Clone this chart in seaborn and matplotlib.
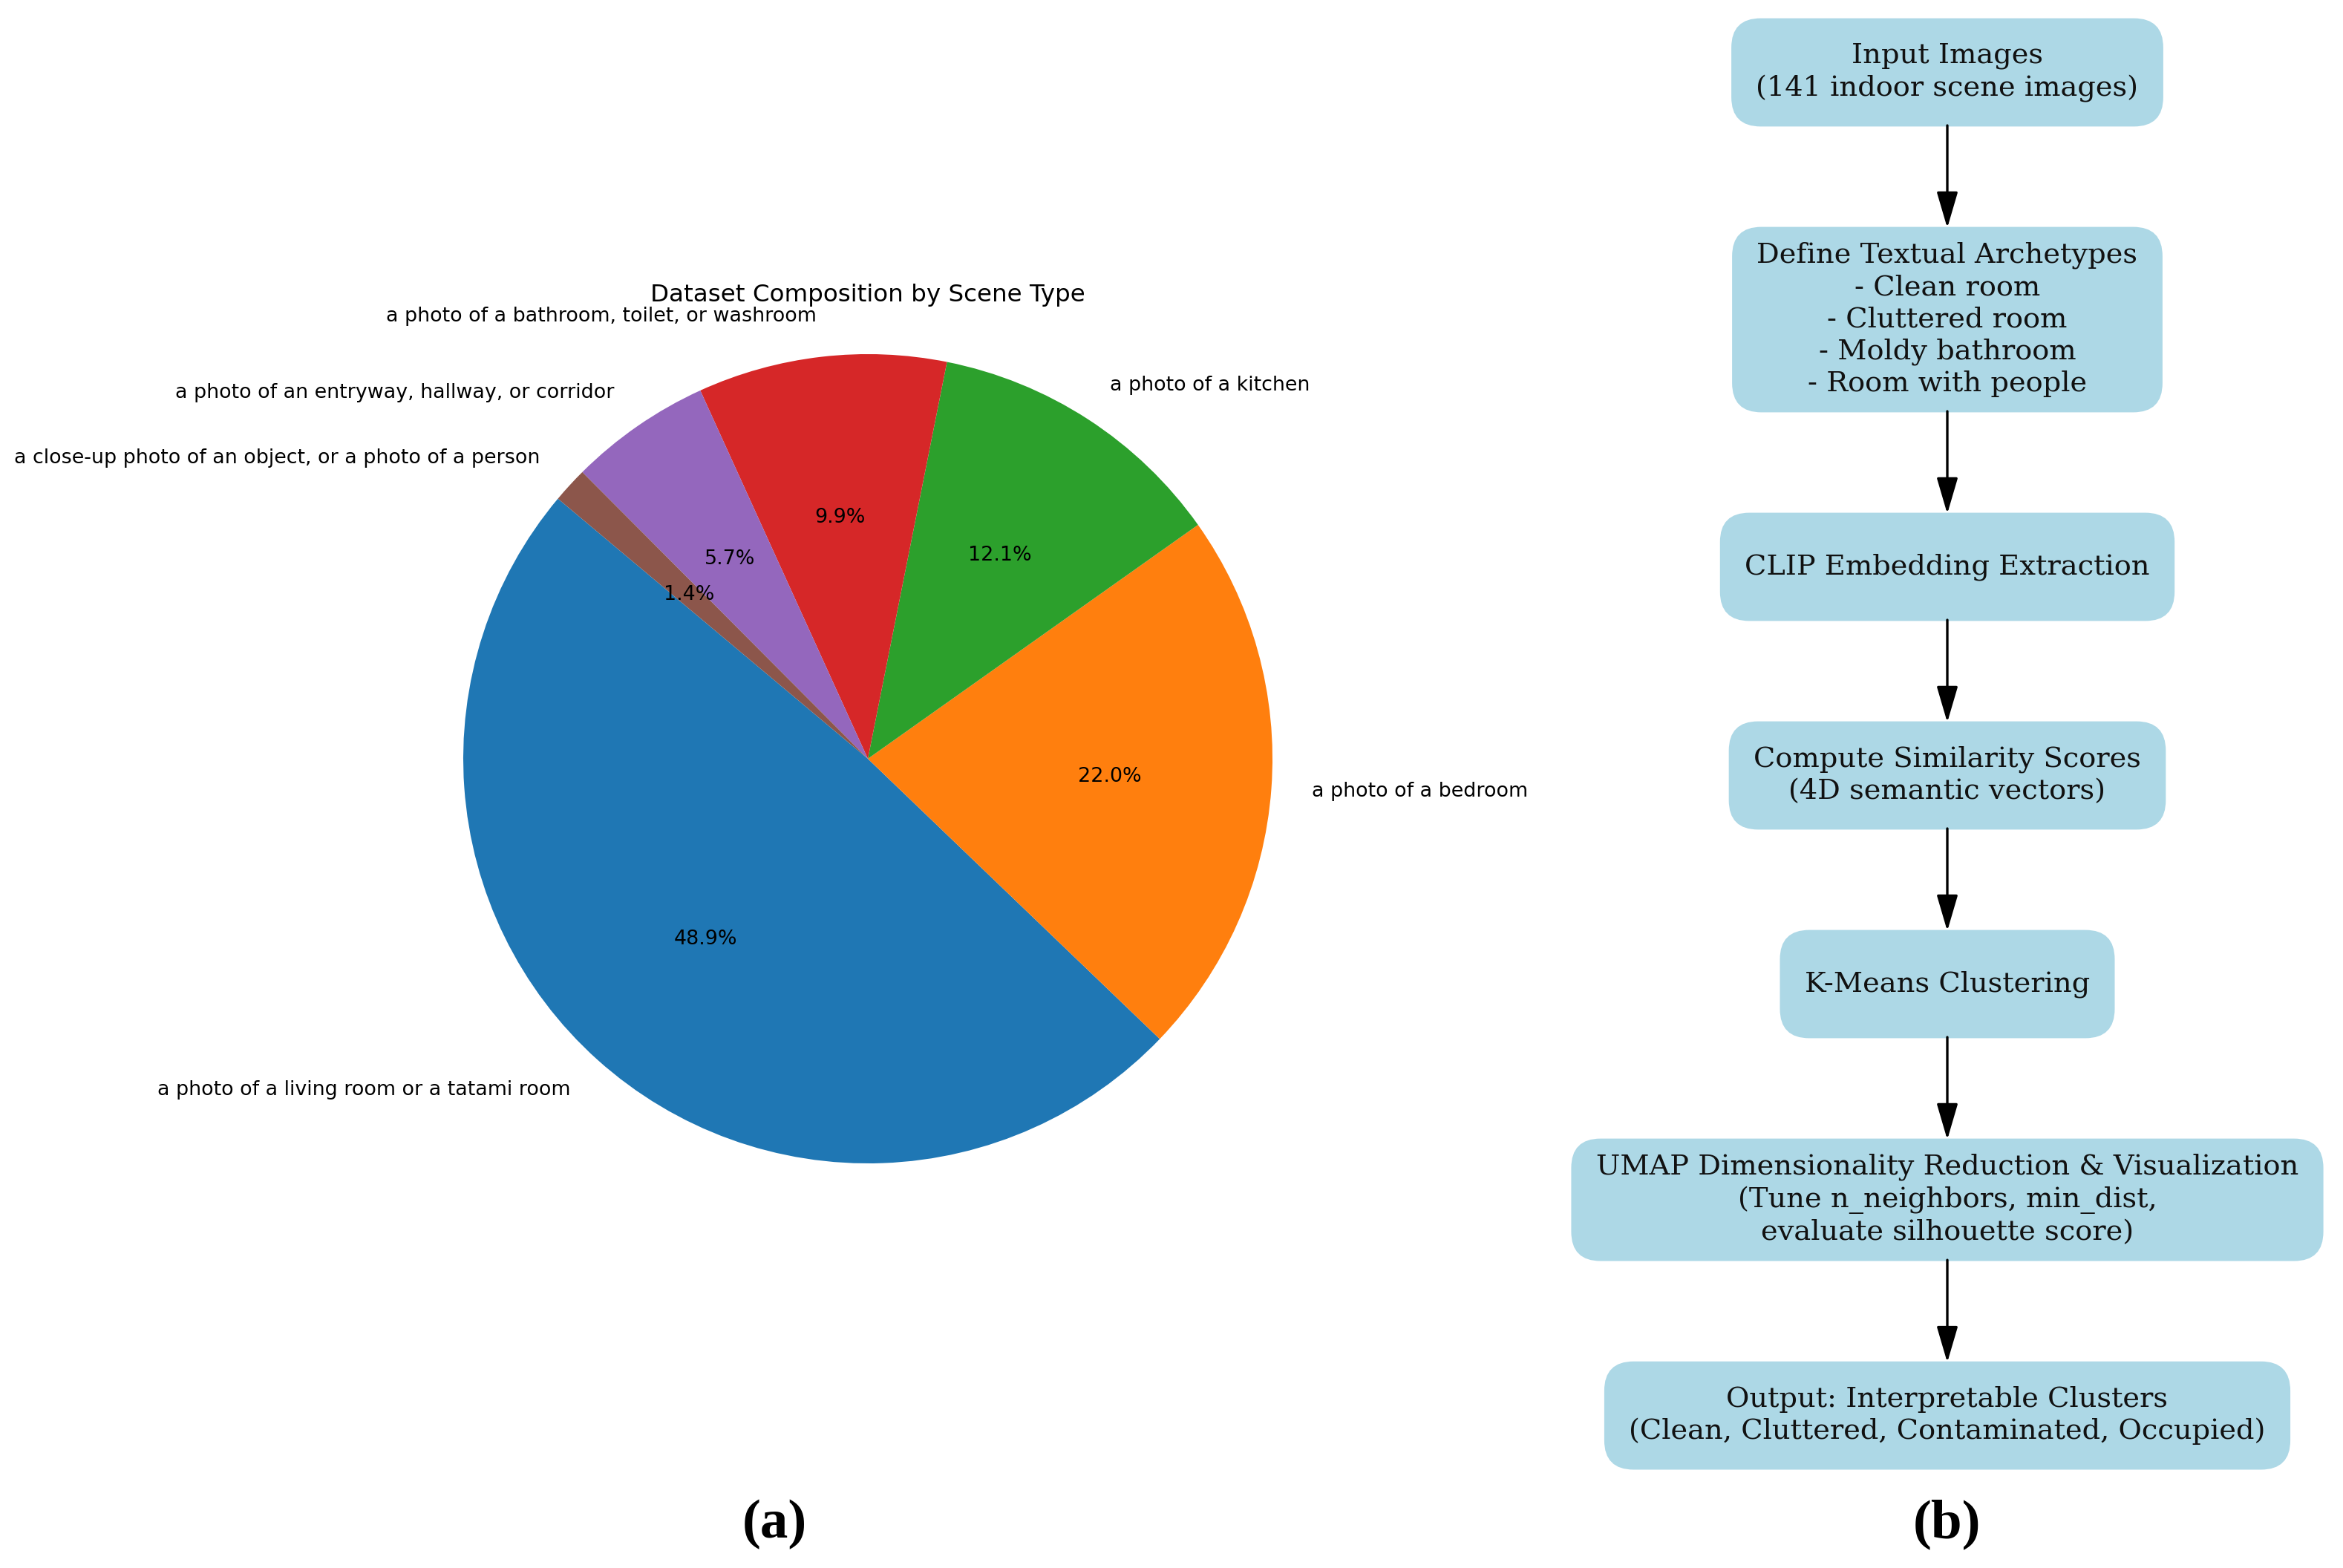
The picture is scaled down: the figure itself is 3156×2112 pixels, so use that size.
import numpy as np
import matplotlib.pyplot as plt
import seaborn as sns
from matplotlib.patches import FancyBboxPatch

sns.set_theme(style="white")

# pie data (141 images)
scene_labels = ["a photo of a living room or a tatami room",
                "a photo of a bedroom",
                "a photo of a kitchen",
                "a photo of a bathroom, toilet, or washroom",
                "a photo of an entryway, hallway, or corridor",
                "a close-up photo of an object, or a photo of a person"]
scene_counts = [69, 31, 17, 14, 8, 2]

# flowchart steps
step_texts = ["Input Images\n(141 indoor scene images)",
              "Define Textual Archetypes\n- Clean room\n- Cluttered room\n- Moldy bathroom\n- Room with people",
              "CLIP Embedding Extraction",
              "Compute Similarity Scores\n(4D semantic vectors)",
              "K-Means Clustering",
              "UMAP Dimensionality Reduction & Visualization\n(Tune n_neighbors, min_dist,\nevaluate silhouette score)",
              "Output: Interpretable Clusters\n(Clean, Cluttered, Contaminated, Occupied)"]
panel_tags = ["(a)", "(b)"]

W, H, DPI = 3156, 2112, 200
fig = plt.figure(figsize=(W / DPI, H / DPI), dpi=DPI)
fig.patch.set_facecolor("white")

# ---- flowchart / overlay axes in pixel coordinates
ax_flow = fig.add_axes([0, 0, 1, 1])
ax_flow.set_xlim(0, W)
ax_flow.set_ylim(H, 0)
ax_flow.axis("off")

# ---- pie
pie_cx, pie_cy, pie_r = 1169, 1022, 545
side = 2.5 * pie_r
ax_pie = fig.add_axes([(pie_cx - side / 2) / W, (H - pie_cy - side / 2) / H, side / W, side / H])
ax_pie.pie(scene_counts, labels=scene_labels, autopct="%1.1f%%", startangle=140,
           colors=sns.color_palette("tab10")[:len(scene_counts)],
           wedgeprops=dict(linewidth=0), textprops=dict(fontsize=9.7, color="black"))
ax_pie.set_title("Dataset Composition by Scene Type", fontsize=11.7, y=0.952, pad=0,
                 color="black")

# ---- flowchart boxes
renderer = fig.canvas.get_renderer()
CX, TOP, GAP = 2623, 26, 138
PADX, PADY, MINH, RAD = 32, 19, 143, 38
BOX = "#add8e6"
spans = []
y = TOP
for txt in step_texts:
    t = ax_flow.text(CX, 0, txt, ha="center", va="center", fontsize=13.8,
                     family="DejaVu Serif", linespacing=1.25, color="#111111", zorder=3)
    bb = t.get_window_extent(renderer)
    bw = bb.width + 2 * PADX
    bh = max(MINH, bb.height + 2 * PADY)
    t.set_y(y + bh / 2)
    ax_flow.add_patch(FancyBboxPatch((CX - bw / 2, y), bw, bh,
                                     boxstyle=f"round,pad=0,rounding_size={RAD}",
                                     fc=BOX, ec=BOX, lw=1, zorder=2))
    spans.append((y, y + bh))
    y += bh + GAP

for (t0, b0), (t1, b1) in zip(spans[:-1], spans[1:]):
    ax_flow.annotate("", xy=(CX, t1), xytext=(CX, b0),
                     arrowprops=dict(arrowstyle="-|>,head_length=0.75,head_width=0.22",
                                     mutation_scale=20, lw=1.2, color="black",
                                     shrinkA=0, shrinkB=0))

# panel tags
for tag, x in zip(panel_tags, [1043, 2623]):
    ax_flow.text(x, 2053, tag, ha="center", va="center", fontsize=27,
                 fontweight="bold", family="Liberation Serif", color="black")

fig.savefig("out.png", dpi=DPI, facecolor="white")
